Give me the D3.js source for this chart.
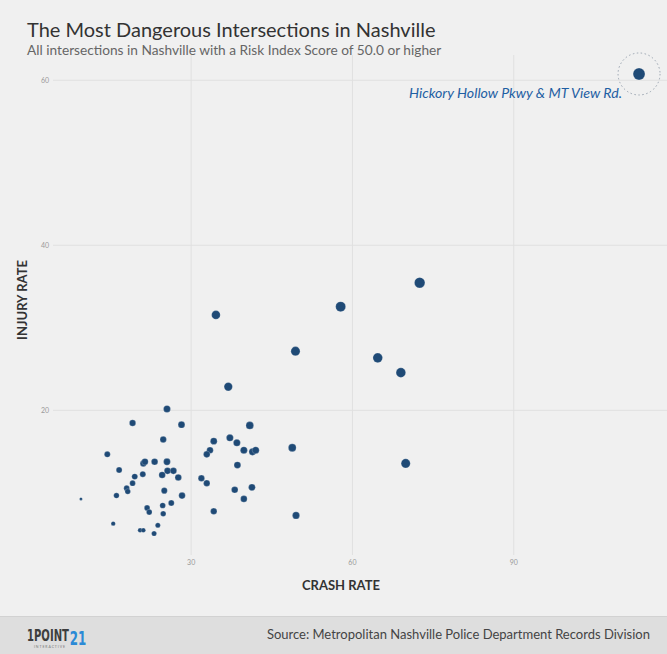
<!DOCTYPE html>
<html>
<head>
<meta charset="utf-8">
<script src="https://cdn.jsdelivr.net/npm/d3@7"></script>
<style>
  html, body { margin: 0; padding: 0; background: #f0f0f0; }
  svg { display: block; }
</style>
</head>
<body>
<svg id="chart" width="667" height="654"></svg>
<script>
// ---- data ----
const crashRate = [9.6, 15.6, 14.5, 19.2, 25.6, 28.3, 24.9, 16.7, 19.6, 19.2, 18.1, 18.3, 16.2, 21.2, 21.5, 23.3, 25.6, 21.1, 24.7, 25.7, 26.8, 27.7, 25.1, 28.4, 21.9, 22.3, 24.8, 26.4, 24.9, 23.9, 20.6, 21.2, 23.2,
  41.0, 37.3, 38.6, 34.3, 33.6, 33.0, 39.9, 41.5, 42.1, 38.7, 48.9, 32.0, 33.0, 38.2, 41.4, 39.9, 34.3, 49.6,
  34.7, 57.9, 49.5, 37.0, 64.8, 69.1, 70.0, 72.6, 113.4];
const injuryRate = [9.2, 6.2, 14.6, 18.4, 20.1, 18.2, 16.4, 12.7, 11.9, 11.1, 10.5, 10.1, 9.6, 13.5, 13.7, 13.7, 13.7, 12.2, 12.1, 12.6, 12.6, 11.8, 10.2, 9.6, 8.1, 7.6, 8.4, 8.7, 7.4, 6.0, 5.4, 5.4, 5.0,
  18.1, 16.6, 16.0, 16.2, 15.1, 14.6, 15.1, 14.9, 15.1, 13.3, 15.4, 11.7, 11.1, 10.3, 10.6, 9.2, 7.7, 7.2,
  31.5, 32.5, 27.1, 22.8, 26.3, 24.5, 13.5, 35.4, 60.7];
const riskScore = [50, 66, 83, 88, 95, 93, 88, 83, 83, 80, 80, 78, 78, 88, 90, 90, 93, 83, 90, 90, 90, 90, 85, 90, 80, 80, 80, 83, 78, 73, 68, 68, 73,
  102, 95, 95, 93, 90, 90, 95, 95, 95, 93, 104, 88, 88, 90, 93, 90, 88, 97,
  113, 128, 119, 110, 124, 124, 119, 134, 150];
const highlightName = "Hickory Hollow Pkwy & MT View Rd.";
const highlightIndex = 59;
const xTicks = [30, 60, 90];
const yTicks = [20, 40, 60];

const title = "The Most Dangerous Intersections in Nashville";
const subtitle = "All intersections in Nashville with a Risk Index Score of 50.0 or higher";
const xLabel = "CRASH RATE";
const yLabel = "INJURY RATE";
const source = "Source: Metropolitan Nashville Police Department Records Division";

const points = crashRate.map((c, i) => ({ x: c, y: injuryRate[i], s: riskScore[i] }));

// ---- layout ----
const W = 667, H = 654;
const plot = { left: 53, right: 667, top: 55, bottom: 555 };
const svg = d3.select("#chart");

svg.append("rect").attr("width", W).attr("height", H).attr("fill", "#f0f0f0");

const x = d3.scaleLinear().domain([4.4, 118.6]).range([plot.left, plot.right]);
const y = d3.scaleLinear().domain([2.4, 63.0]).range([plot.bottom, plot.top]);
const r = d3.scaleLinear().domain([50, 150]).range([1.5, 6]);

// gridlines + ticks
const gx = svg.append("g").attr("transform", `translate(0,${plot.bottom})`)
  .call(d3.axisBottom(x).tickValues(xTicks).tickSize(-(plot.bottom - plot.top)).tickPadding(5));
const gy = svg.append("g").attr("transform", `translate(${plot.left},0)`)
  .call(d3.axisLeft(y).tickValues(yTicks).tickSize(-(plot.right - plot.left)).tickPadding(4));
[gx, gy].forEach(g => {
  g.select(".domain").remove();
  g.selectAll(".tick line").attr("stroke", "#e0e0e0").attr("stroke-width", 1);
  g.selectAll(".tick text").attr("fill", "#9a9a9a").attr("font-family", "Lato, sans-serif").attr("font-size", 7);
});

// axis titles
svg.append("text").attr("x", 341).attr("y", 590).attr("text-anchor", "middle")
  .attr("font-family", "Lato, sans-serif").attr("font-weight", "bold").attr("font-size", 13)
  .attr("fill", "#333").text(xLabel);
svg.append("text").attr("transform", "translate(27,300) rotate(-90)").attr("text-anchor", "middle")
  .attr("font-family", "Lato, sans-serif").attr("font-weight", "bold").attr("font-size", 13)
  .attr("fill", "#333").text(yLabel);

// points
svg.append("g").selectAll("circle").data(points).join("circle")
  .attr("cx", d => x(d.x)).attr("cy", d => y(d.y)).attr("r", d => r(d.s))
  .attr("fill", "#1f4a76").attr("stroke", "#ffffff").attr("stroke-opacity", 0.35).attr("stroke-width", 0.6);

// highlight annotation
const hp = points[highlightIndex];
svg.append("circle").attr("cx", x(hp.x)).attr("cy", y(hp.y)).attr("r", 21)
  .attr("fill", "none").attr("stroke", "#9aa4b0").attr("stroke-width", 1).attr("stroke-dasharray", "1.5,2.5");
svg.append("text").attr("x", x(hp.x) - 17).attr("y", y(hp.y) + 24).attr("text-anchor", "end")
  .attr("font-family", "Lato, sans-serif").attr("font-style", "italic").attr("font-size", 14.2)
  .attr("fill", "#1f5fa3").text(highlightName);

// titles
svg.append("text").attr("x", 27).attr("y", 37)
  .attr("font-family", "Lato, sans-serif").attr("font-size", 20).attr("fill", "#333").text(title);
svg.append("text").attr("x", 27).attr("y", 55)
  .attr("font-family", "Lato, sans-serif").attr("font-size", 13.7).attr("fill", "#666").text(subtitle);

// footer
svg.append("rect").attr("x", 0).attr("y", 616).attr("width", W).attr("height", H - 616).attr("fill", "#dedede");
svg.append("line").attr("x1", 0).attr("x2", W).attr("y1", 616.5).attr("y2", 616.5).attr("stroke", "#d2d2d2");
svg.append("text").attr("x", 650).attr("y", 639).attr("text-anchor", "end")
  .attr("font-family", "Lato, sans-serif").attr("font-size", 13).attr("fill", "#444").text(source);

// logo: scale each part horizontally to a fixed width so boxes stay accurate
const logoFont = "'Liberation Sans Narrow', 'DejaVu Sans Condensed', sans-serif";
function fitText(txt, x0, y0, size, width, fill) {
  const g = svg.append("g");
  const t = g.append("text").attr("font-family", logoFont).attr("font-weight", "bold")
    .attr("font-size", size).attr("fill", fill).text(txt);
  const w = t.node().getComputedTextLength() || width;
  g.attr("transform", `translate(${x0},${y0}) scale(${width / w},1)`);
}
fitText("1POINT", 27, 641, 15, 42, "#3d3d3d");
fitText("21", 69.8, 644.5, 20, 16.5, "#2b8ad6");
svg.append("text").attr("x", 34).attr("y", 647.5)
  .attr("font-family", "Lato, sans-serif").attr("font-size", 3.5)
  .attr("textLength", 31).attr("lengthAdjust", "spacing")
  .attr("fill", "#777").text("INTERACTIVE");
</script>
</body>
</html>
